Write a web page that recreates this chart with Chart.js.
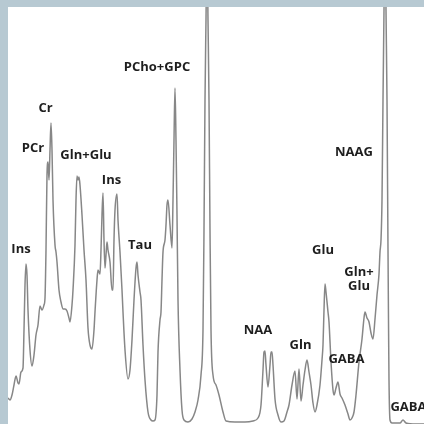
<!DOCTYPE html>
<html>
<head>
<meta charset="utf-8">
<script src="https://cdn.jsdelivr.net/npm/chart.js@4/dist/chart.umd.min.js"></script>
<style>
  html, body { margin: 0; padding: 0; width: 424px; height: 424px; overflow: hidden; background: #b7c9d2; }
  #wrap { position: absolute; left: 8px; top: 7px; width: 416px; height: 417px; background: #ffffff; }
</style>
</head>
<body>
<div id="wrap"><canvas id="c"></canvas></div>
<script>
// Spectrum: position (arbitrary units, left to right) and intensity
const positions = [0,2,4,6,8,10,11,13,15,16,17,18,19,20,22,24,26,28,30,32,34,36,37,38,39,40,41,42,43,44,45,47,48,49,51,53,55,57,59,61,62,64,65,67,68,69,70,71,72,74,76,78,80,82,84,86,87,89,90,92,93,94,95,96,97,98,99,100,102,104,105,106,107,109,110,112,114,115,117,120,122,124,126,128,129,130,132,133,135,137,140,143,145,147,149,150,152,153,154,155,157,158,159,160,162,164,165,166,167,168,169,170,172,174,176,180,184,187,190,193,195,196,197,198,199,200,201,202,203,205,208,211,215,218,227,237,245,250,253,255,256,257,258,260,262,263,264,265,267,270,273,276,279,281,284,287,289,291,293,295,297,299,301,303,305,307,309,312,314,315,316,317,318,320,321,323,325,326,328,330,332,334,337,340,342,344,346,348,351,354,356,357,359,361,363,365,367,369,371,372,373,374,375,376,377,378,379,380,380.5,381,382,384,392,395,398,408,416];
const intensity = [26,24,29,39,48,41,40,52,56,94,139,160,149,114,74,58,69,89,99,118,114,119,126,174,249,262,244,274,301,274,224,179,172,162,134,122,115,115,113,106,102,119,134,179,224,248,244,247,239,209,174,144,96,79,75,94,112,144,154,150,174,209,231,184,156,169,182,174,162,134,134,184,214,230,204,172,134,112,74,45,54,84,124,156,162,149,132,124,79,44,12,4,3,4,29,72,104,112,144,172,184,199,219,224,199,176,224,284,336,284,209,124,54,14,4,2,5,12,24,49,94,194,324,404,484,404,324,194,94,49,39,29,12,3,2,2,3,6,19,54,72,73,59,37,59,72,72,59,25,9,2,3,12,19,39,53,25,55,23,39,54,64,52,39,21,12,19,39,64,79,114,140,132,112,102,62,34,29,36,42,30,26,19,10,4,6,12,29,62,85,106,112,106,102,91,85,105,129,150,172,184,224,324,414,524,414,324,174,104,44,4,1,1,4,1,0,0];

// Peak annotations: text, centre position, height
const labelTexts = ["Ins","PCr","Cr","Gln+Glu","Ins","Tau","PCho+GPC","NAAG","NAA","Gln","Glu","Gln+","Glu","GABA","GABA"];
const labelPos   = [13,25,37.5,78,103.5,132,149,346,250,292.5,315,351,351,338.5,400.5];
const labelHgt   = [175,276,316,269,244,179,357,272,94,79,174,152,138,65,17];

const points = positions.map((p, i) => ({ x: p, y: intensity[i] }));

const labelPlugin = {
  id: 'peakLabels',
  afterDatasetsDraw(chart) {
    const ctx = chart.ctx;
    const xs = chart.scales.x, ys = chart.scales.y;
    ctx.save();
    ctx.fillStyle = '#1e1e1e';
    ctx.font = 'bold 13px "Open Sans"';
    ctx.textAlign = 'center';
    ctx.textBaseline = 'middle';
    labelTexts.forEach((t, i) => {
      ctx.fillText(t, xs.getPixelForValue(labelPos[i]), ys.getPixelForValue(labelHgt[i]));
    });
    ctx.restore();
  }
};

new Chart(document.getElementById('c'), {
  type: 'line',
  data: {
    datasets: [{
      data: points,
      borderColor: '#878787',
      borderWidth: 1.5,
      pointRadius: 0,
      fill: false,
      cubicInterpolationMode: 'monotone'
    }]
  },
  options: {
    responsive: true,
    maintainAspectRatio: false,
    animation: false,
    layout: { padding: 0 },
    plugins: { legend: { display: false }, tooltip: { enabled: false } },
    scales: {
      x: { type: 'linear', min: 0, max: 416, display: false },
      y: { type: 'linear', min: 0, max: 417, display: false }
    }
  },
  plugins: [labelPlugin]
});
</script>
</body>
</html>
